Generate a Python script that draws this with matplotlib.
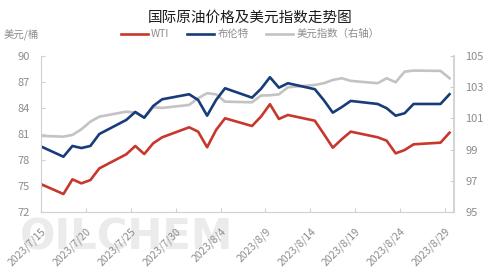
import matplotlib
matplotlib.use('Agg')
import matplotlib.pyplot as plt
import matplotlib.dates as mdates
import matplotlib.transforms as mtransforms
import pandas as pd

plt.rcParams['font.family'] = ['Noto Sans CJK SC', 'DejaVu Sans']

# --- data ---
dates = pd.to_datetime([
    "2023-07-14", "2023-07-17", "2023-07-18", "2023-07-19", "2023-07-20", "2023-07-21",
    "2023-07-24", "2023-07-25", "2023-07-26", "2023-07-27", "2023-07-28",
    "2023-07-31", "2023-08-01", "2023-08-02", "2023-08-03", "2023-08-04",
    "2023-08-07", "2023-08-08", "2023-08-09", "2023-08-10", "2023-08-11",
    "2023-08-14", "2023-08-15", "2023-08-16", "2023-08-17", "2023-08-18",
    "2023-08-21", "2023-08-22", "2023-08-23", "2023-08-24", "2023-08-25",
    "2023-08-28", "2023-08-29",
])
wti = [75.45, 74.08, 75.77, 75.31, 75.69, 77.04,
       78.66, 79.62, 78.69, 79.93, 80.62,
       81.77, 81.27, 79.47, 81.46, 82.81,
       81.92, 83.00, 84.43, 82.73, 83.19,
       82.53, 81.00, 79.42, 80.40, 81.27,
       80.62, 80.23, 78.77, 79.15, 79.81,
       80.00, 81.15]
brent = [79.80, 78.38, 79.62, 79.38, 79.62, 81.00,
         82.62, 83.54, 82.88, 84.23, 85.00,
         85.58, 84.92, 83.11, 84.92, 86.27,
         85.19, 86.20, 87.54, 86.34, 86.85,
         86.16, 84.90, 83.46, 84.10, 84.81,
         84.46, 83.97, 83.11, 83.39, 84.46,
         84.46, 85.58]
dxy = [99.89, 99.83, 99.94, 100.30, 100.79, 101.11,
       101.43, 101.37, 101.04, 101.71, 101.67,
       101.86, 102.29, 102.61, 102.54, 102.07,
       102.03, 102.46, 102.48, 102.54, 102.99,
       103.14, 103.25, 103.46, 103.57, 103.40,
       103.25, 103.57, 103.31, 103.99, 104.06,
       104.04, 103.57]
tick_dates = pd.date_range("2023-07-15", "2023-08-29", freq="5D")
tick_labels = [f"{d.year}/{d.month}/{d.day}" for d in tick_dates]

left_ticks = [72, 75, 78, 81, 84, 87, 90]
right_ticks = [95, 97, 99, 101, 103, 105]

c_wti = '#C8372D'
c_brent = '#183B7A'
c_dxy = '#C3C3C3'
c_axis = '#D0D0D0'
c_text = '#8C8C8C'

fig = plt.figure(figsize=(5, 2.74), dpi=100)
ax = fig.add_axes([0.082, 0.226, 0.826, 0.57])
ax2 = ax.twinx()

# watermark
fig.text(0.04, 0.09, "OILCHEM", fontsize=30, fontweight='bold', color='#EBEBEB',
         family='DejaVu Sans', zorder=0)

x = mdates.date2num(dates)
l3, = ax2.plot(x, dxy, color=c_dxy, lw=1.9, label='美元指数（右轴）')
l1, = ax.plot(x, wti, color=c_wti, lw=1.9, label='WTI')
l2, = ax.plot(x, brent, color=c_brent, lw=1.9, label='布伦特')
ax.set_zorder(ax2.get_zorder() + 1)
ax.patch.set_visible(False)

xt = mdates.date2num(tick_dates) - 0.5
ax.set_xlim(xt[0], mdates.date2num(pd.Timestamp("2023-08-29")) + 0.5)
ax.set_xticks(xt)
ax.set_xticklabels(tick_labels, rotation=45, ha='right', va='top', rotation_mode='anchor')
shift = mtransforms.ScaledTranslation(4 / 100, 0, fig.dpi_scale_trans)
for lab in ax.get_xticklabels():
    lab.set_transform(lab.get_transform() + shift)

ax.set_ylim(72, 90)
ax.set_yticks(left_ticks)
ax2.set_ylim(95, 105)
ax2.set_yticks(right_ticks)

for a in (ax, ax2):
    for s in a.spines.values():
        s.set_visible(False)
    a.tick_params(colors=c_axis, labelcolor=c_text, labelsize=8, direction='in', length=3)
ax.spines['left'].set_visible(True)
ax.spines['left'].set_color(c_axis)
ax.spines['bottom'].set_visible(True)
ax.spines['bottom'].set_color(c_axis)
ax2.spines['right'].set_visible(True)
ax2.spines['right'].set_color(c_axis)
ax2.spines['right'].set_linewidth(1.3)
ax.tick_params(axis='x', labelsize=7.5, pad=10)
ax.tick_params(axis='y', pad=8)
ax2.tick_params(axis='y', pad=8)

fig.text(0.5, 0.935, "国际原油价格及美元指数走势图", ha='center', va='center',
         fontsize=10.5, color='#1A1A1A')
fig.text(0.008, 0.875, "美元/桶", ha='left', va='center', fontsize=7.5, color=c_text)
fig.legend(handles=[l1, l2, l3], loc='center', bbox_to_anchor=(0.5, 0.875), ncol=3,
           frameon=False, fontsize=7.5, handlelength=2.6, handletextpad=0.3,
           columnspacing=1.7, labelcolor=c_text)

fig.savefig("out.png", dpi=100)
